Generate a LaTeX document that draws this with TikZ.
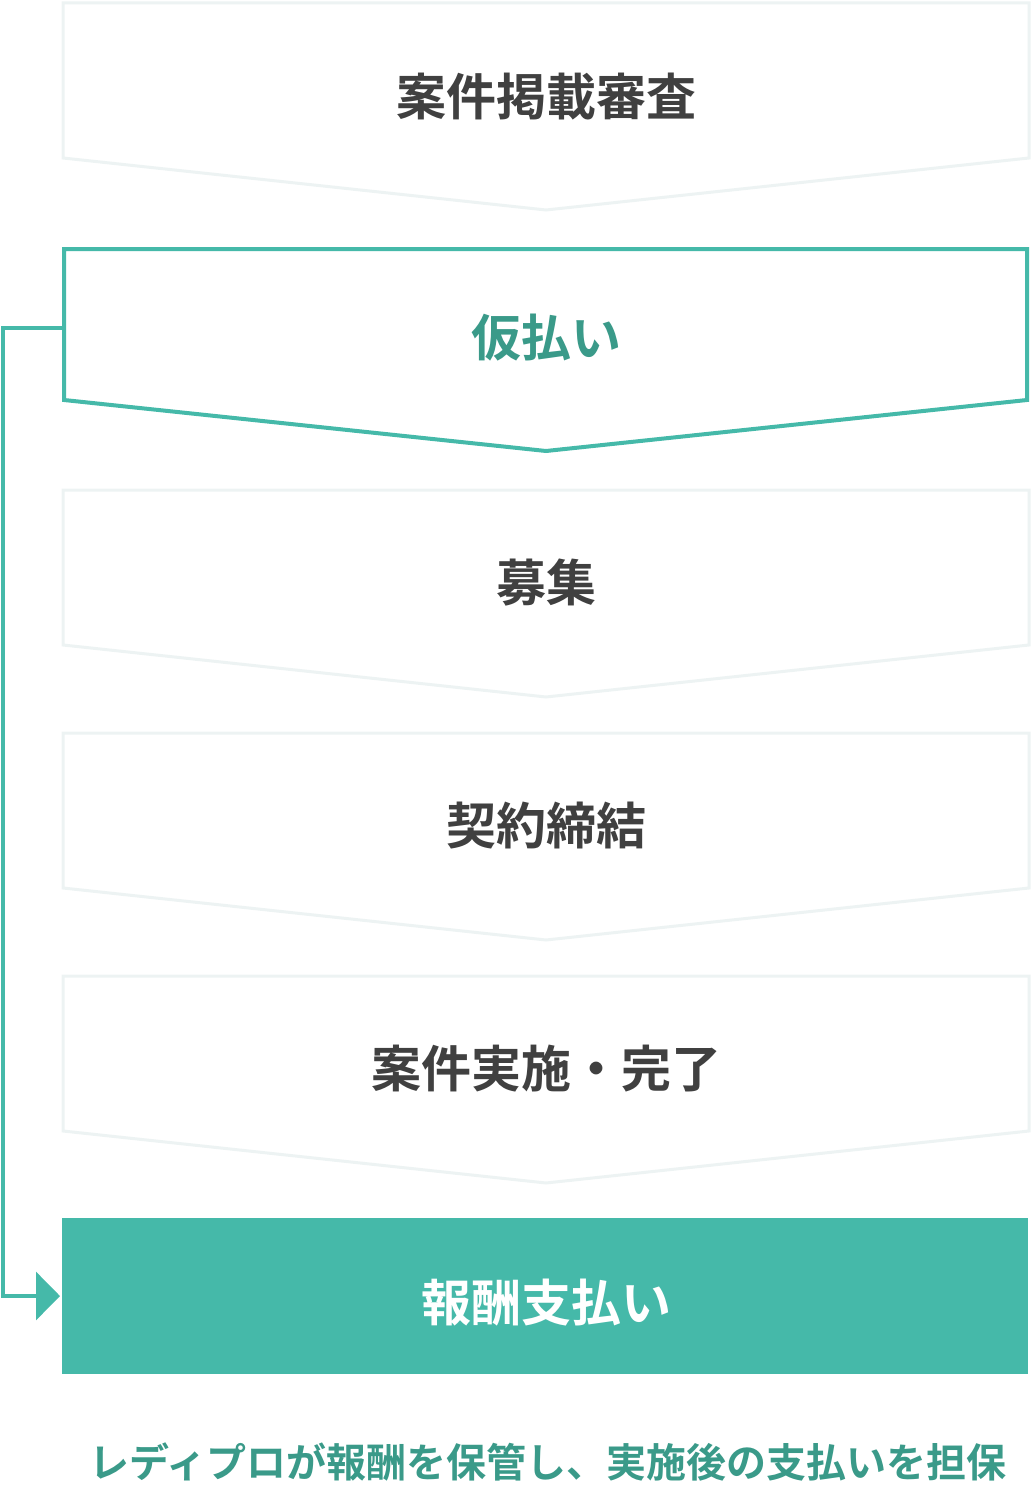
\documentclass[tikz,border=0pt]{standalone}
\usepackage{fontspec}
\newfontfamily\cjk{Noto Sans CJK JP}[BoldFont={* Bold}]
\usetikzlibrary{arrows.meta}
\definecolor{boxgrey}{HTML}{EDF3F3}
\definecolor{teal}{HTML}{45B9A9}
\definecolor{tealtext}{HTML}{3A9A89}
\definecolor{darktext}{HTML}{404040}
\begin{document}
\begin{tikzpicture}[x=1pt,y=-1pt,
  greychev/.style={draw=boxgrey,line width=3pt,line join=miter,fill=white},
  greenchev/.style={draw=teal,line width=4pt,line join=miter,fill=white},
  steplabel/.style={font=\cjk\bfseries\fontsize{50}{60}\selectfont,text=darktext,inner sep=0pt},
  greenlabel/.style={steplabel,text=tealtext},
  link/.style={draw=teal,line width=3.2pt}]
\useasboundingbox (0,0) rectangle (1032,1490);
% chevrons
\draw[greychev] (63,3) -- (1029,3) -- (1029,158) -- (546,210) -- (63,158) -- cycle;
\draw[greenchev] (64,249) -- (1027,249) -- (1027,400) -- (546,451) -- (64,400) -- cycle;
\draw[greychev] (63,490) -- (1029,490) -- (1029,645) -- (546,697) -- (63,645) -- cycle;
\draw[greychev] (63,733) -- (1029,733) -- (1029,888) -- (546,940) -- (63,888) -- cycle;
\draw[greychev] (63,976) -- (1029,976) -- (1029,1131) -- (546,1183) -- (63,1131) -- cycle;
% labels
\node[steplabel] (s1) at (546,97) {案件掲載審査};
\node[greenlabel] (s2) at (546,338) {仮払い};
\node[steplabel] (s3) at (546,583) {募集};
\node[steplabel] (s4) at (546,826) {契約締結};
\node[steplabel] (s5) at (546,1069) {案件実施・完了};
\node[fill=teal,minimum width=966pt,minimum height=156pt,inner sep=0pt] (hoshu) at (545,1296) {};
\node[steplabel,text=white] (hoshu-label) at (546,1303) {報酬支払い};
% connector
\coordinate (kari-w) at (64,328);
\coordinate (corner) at (3,328);
\coordinate (tip) at (60,1296);
\draw[link,-{Triangle[length=24pt,width=48pt]}] (kari-w) -- (corner) |- (tip);
% footnote
\node[font=\cjk\bfseries\fontsize{40}{48}\selectfont,text=tealtext,inner sep=0pt] (note) at (548,1462) {レディプロが報酬を保管し、実施後の支払いを担保};
\end{tikzpicture}
\end{document}
